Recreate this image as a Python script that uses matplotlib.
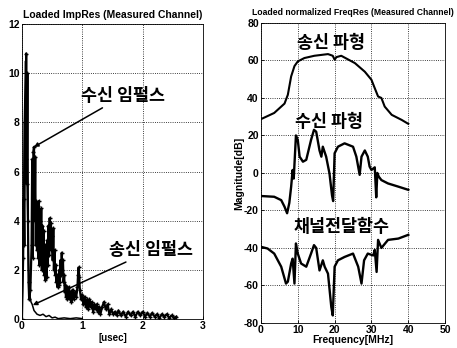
import matplotlib
matplotlib.use("Agg")
import matplotlib.pyplot as plt

plt.rcParams['font.family'] = ['Liberation Sans', 'Noto Sans CJK KR', 'DejaVu Sans']

# ---------------- data: left (impulse responses) ----------------
rx_t = [0.00, 0.02, 0.03, 0.04, 0.05, 0.06, 0.07, 0.08, 0.09, 0.10, 0.11, 0.12, 0.14, 0.16,
        0.17, 0.18, 0.19, 0.20, 0.21, 0.22, 0.23, 0.24, 0.25, 0.26, 0.27, 0.28, 0.29, 0.30,
        0.31, 0.32, 0.33, 0.34, 0.35, 0.36, 0.37, 0.38, 0.39, 0.40, 0.41, 0.42, 0.43, 0.44,
        0.45, 0.46, 0.47, 0.48, 0.49, 0.50, 0.51, 0.52, 0.53, 0.54, 0.55, 0.56, 0.57, 0.58,
        0.59, 0.60, 0.61, 0.62, 0.63, 0.64, 0.65, 0.66, 0.67, 0.68, 0.69, 0.70, 0.71, 0.72,
        0.73, 0.74, 0.75, 0.76, 0.77, 0.78, 0.79, 0.80, 0.82, 0.84, 0.86, 0.88, 0.90, 0.92,
        0.93, 0.94, 0.95, 0.96, 0.98, 1.00, 1.02, 1.04, 1.06, 1.08, 1.10, 1.12, 1.14, 1.16,
        1.18, 1.20, 1.22, 1.24, 1.26, 1.28, 1.30, 1.33, 1.36, 1.39, 1.42, 1.45, 1.48, 1.51,
        1.54, 1.57, 1.60, 1.64, 1.68, 1.72, 1.76, 1.80, 1.84, 1.88, 1.92, 1.96, 2.00, 2.04,
        2.08, 2.12, 2.16, 2.20, 2.24, 2.28, 2.32, 2.36, 2.40, 2.44, 2.48, 2.52, 2.56]
rx_amp = [0.0, 2.5, 4.9, 3.0, 8.0, 6.5, 10.8, 5.5, 10.0, 4.0, 1.5, 0.8, 1.2, 3.0,
          6.5, 2.5, 6.8, 7.0, 4.0, 6.6, 3.0, 4.8, 2.8, 4.6, 2.5, 4.8, 2.2, 4.0,
          2.8, 4.5, 2.0, 3.8, 2.5, 3.6, 1.8, 3.0, 1.6, 2.4, 1.7, 3.2, 2.2, 3.8,
          2.6, 4.1, 3.0, 3.9, 2.8, 3.4, 2.4, 3.7, 2.0, 2.8, 1.8, 2.2, 1.5, 1.8,
          1.3, 1.6, 1.4, 2.0, 1.5, 2.4, 1.8, 2.7, 2.0, 2.4, 1.5, 1.8, 1.1, 1.4,
          0.9, 1.3, 0.8, 1.2, 0.9, 1.3, 0.8, 1.1, 0.7, 1.2, 0.8, 1.1, 0.9, 1.3,
          1.8, 2.1, 1.7, 1.2, 0.8, 1.0, 0.6, 0.9, 0.5, 0.8, 0.4, 0.8, 0.5, 0.7,
          0.3, 0.6, 0.4, 0.6, 0.3, 0.5, 0.2, 0.5, 0.7, 0.4, 0.6, 0.2, 0.4, 0.2,
          0.3, 0.15, 0.35, 0.15, 0.3, 0.1, 0.3, 0.15, 0.3, 0.1, 0.3, 0.15, 0.3, 0.1,
          0.25, 0.1, 0.25, 0.1, 0.2, 0.05, 0.2, 0.1, 0.2, 0.05, 0.15, 0.05, 0.1]

tx_t = [0.00, 0.02, 0.04, 0.06, 0.07, 0.09, 0.11, 0.13, 0.15, 0.17, 0.20, 0.25, 0.30, 0.35,
        0.40, 0.45, 0.50, 0.55, 0.60, 0.70, 0.80, 0.90, 1.00]
tx_amp = [0.0, 3.0, 8.0, 10.5, 9.0, 5.0, 2.0, 1.0, 0.7, 0.6, 0.35, 0.2, 0.15, 0.2,
          0.1, 0.15, 0.05, 0.08, 0.02, 0.05, 0.02, 0.05, 0.02]

# ---------------- data: right (frequency responses) ----------------
tx_f = [0.0, 3.6, 6.4, 7.3, 8.2, 9.1, 10.0, 11.8, 14.5, 18.2, 19.5, 20.0, 20.5, 21.8,
        25.5, 28.2, 30.0, 30.9, 31.8, 32.7, 33.6, 35.5, 38.2, 40.0]
tx_db = [28.7, 32.0, 37.0, 41.7, 51.5, 57.0, 59.5, 61.3, 62.5, 63.4, 62.5, 60.4, 61.8, 62.5,
         58.6, 54.0, 49.7, 45.2, 40.8, 40.0, 35.4, 31.0, 28.3, 26.2]

rx_f = [0.0, 3.6, 5.5, 6.4, 7.1, 7.7, 8.2, 8.6, 8.9, 9.5, 10.0, 10.5, 11.4, 12.3, 13.6,
        14.4, 15.0, 15.9, 16.4, 16.8, 17.7, 18.6, 19.3, 19.6, 20.0, 20.9, 22.7, 25.0, 25.9,
        26.8, 27.3, 28.2, 29.0, 29.5, 30.0, 30.9, 31.3, 31.6, 32.0, 32.7, 34.5, 37.3, 40.0]
rx_db = [-12.3, -12.7, -14.5, -18.0, -21.5, -16.0, -7.3, 1.6, -3.0, 20.0, 17.6, 8.7, 6.0, 7.0,
         17.6, 23.0, 22.0, 12.0, 8.7, 14.0, 8.7, -0.2, -12.0, -15.0, 10.5, 14.0, 15.8, 14.0, 8.7,
         -1.0, 8.7, 12.0, 8.7, 3.4, 1.6, 3.0, -13.0, 0.0, -2.0, -3.8, -5.6, -7.3, -9.0]

ch_f = [0.0, 1.8, 3.6, 5.5, 6.8, 7.3, 8.2, 8.6, 9.1, 9.5, 10.0, 10.9, 12.3, 13.6, 14.4,
        15.0, 15.9, 16.8, 17.3, 18.2, 19.1, 19.5, 20.0, 20.9, 22.7, 25.0, 26.4, 27.3, 28.0,
        29.0, 30.5, 30.9, 31.4, 31.8, 32.7, 34.5, 37.3, 40.0]
ch_db = [-39.4, -40.3, -43.0, -50.0, -59.0, -58.0, -48.3, -45.7, -59.0, -37.6, -43.0, -48.3,
         -50.0, -43.0, -38.5, -40.0, -52.0, -46.6, -50.0, -53.7, -71.5, -76.0, -50.0, -46.6,
         -44.8, -43.0, -50.0, -59.0, -46.6, -43.0, -44.0, -41.0, -52.8, -35.7, -40.0, -35.7,
         -35.0, -33.0]

left_xticks = [0, 1, 2, 3]
left_yticks = [0, 2, 4, 6, 8, 10, 12]
right_xticks = [0, 10, 20, 30, 40, 50]
right_yticks = [-80, -60, -40, -20, 0, 20, 40, 60, 80]

fig = plt.figure(figsize=(4.57, 3.48), dpi=100)
ax1 = fig.add_axes([0.048, 0.083, 0.396, 0.848])
ax2 = fig.add_axes([0.571, 0.072, 0.403, 0.862])

tick_font = dict(fontsize=7.5, fontweight='bold')
kor = dict(fontsize=12.5, family=['Noto Sans CJK KR'], fontweight='bold', color='black')

# left plot
ax1.plot(tx_t, tx_amp, color='black', lw=1.1)
ax1.plot(rx_t, rx_amp, color='black', lw=1.6, marker='+', ms=3.5, mew=1.0)
ax1.set_xlim(0, 3)
ax1.set_ylim(0, 12)
ax1.set_xticks(left_xticks)
ax1.set_yticks(left_yticks)
ax1.set_xticklabels([str(v) for v in left_xticks], **tick_font)
ax1.set_yticklabels([str(v) for v in left_yticks], **tick_font)
ax1.set_title('Loaded ImpRes (Measured Channel)', fontsize=7.5, fontweight='bold', pad=4)
ax1.set_xlabel('[usec]', fontsize=7, fontweight='bold', labelpad=1)
ax1.annotate('수신 임펄스', xy=(0.2, 7.0), xytext=(0.98, 9.07), va='center', ha='left',
             arrowprops=dict(arrowstyle='-|>', color='black', lw=1.1, mutation_scale=6,
                             shrinkA=0, shrinkB=0), **kor)
ax1.annotate('송신 임펄스', xy=(0.18, 0.57), xytext=(1.45, 2.8), va='center', ha='left',
             arrowprops=dict(arrowstyle='-|>', color='black', lw=1.1, mutation_scale=6,
                             shrinkA=0, shrinkB=0), **kor)

# right plot
ax2.plot(tx_f, tx_db, color='black', lw=1.5)
ax2.plot(rx_f, rx_db, color='black', lw=1.7)
ax2.plot(ch_f, ch_db, color='black', lw=1.7)
ax2.set_xlim(0, 50)
ax2.set_ylim(-80, 80)
ax2.set_xticks(right_xticks)
ax2.set_yticks(right_yticks)
ax2.set_xticklabels([str(v) for v in right_xticks], **tick_font)
ax2.set_yticklabels([str(v) for v in right_yticks], **tick_font)
ax2.set_title('Loaded normalized FreqRes (Measured Channel)', fontsize=6.2, fontweight='bold', pad=6)
ax2.set_xlabel('Frequency[MHz]', fontsize=7.5, fontweight='bold', labelpad=0)
ax2.set_ylabel('Magnitude[dB]', fontsize=7.5, fontweight='bold', labelpad=0)
ax2.text(19.0, 69.3, '송신 파형', ha='center', va='center', **kor)
ax2.text(18.5, 27.2, '수신 파형', ha='center', va='center', **kor)
ax2.text(21.8, -28.8, '채널전달함수', ha='center', va='center', **kor)

for ax in (ax1, ax2):
    ax.grid(True, color='black', linestyle=':', linewidth=0.6)
    ax.tick_params(direction='in', length=2, width=0.6, pad=1.5)
    for s in ax.spines.values():
        s.set_linewidth(0.6)

fig.savefig('out.png', dpi=100)
